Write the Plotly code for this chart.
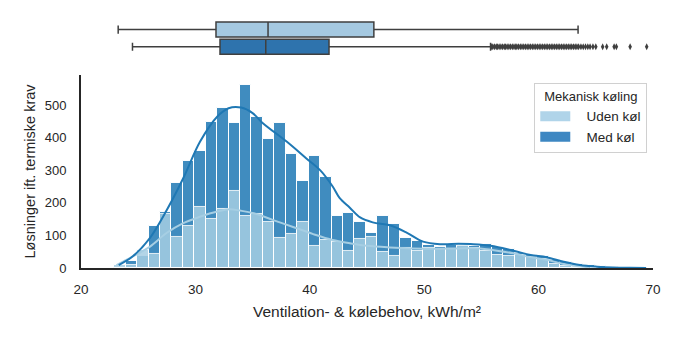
import plotly.graph_objects as go

# ---------------- data ----------------
bin_centers = [23.4, 24.4, 25.4, 26.4, 27.4, 28.4, 29.4, 30.4, 31.4, 32.4,
               33.4, 34.4, 35.4, 36.4, 37.4, 38.4, 39.4, 40.4, 41.4, 42.4,
               43.4, 44.4, 45.4, 46.4, 47.4, 48.4, 49.4, 50.4, 51.4, 52.4,
               53.4, 54.4, 55.4, 56.4, 57.4, 58.4, 59.4, 60.4, 61.4, 62.4,
               63.4, 64.4, 65.4, 66.4, 67.4, 68.4, 69.4]
bin_width = 1.0
uden_counts = [10, 8, 55, 43, 166, 96, 129, 186, 149, 180,
               237, 160, 166, 142, 91, 104, 142, 67, 86, 81,
               52, 88, 94, 50, 37, 62, 53, 62, 58, 58,
               67, 63, 52, 40, 36, 40, 34, 27, 12, 6,
               2, 0, 0, 0, 0, 0, 0]
med_counts = [3, 22, 38, 129, 172, 262, 329, 360, 449, 490,
              444, 561, 464, 395, 444, 350, 268, 344, 280, 160,
              170, 142, 106, 160, 135, 93, 84, 71, 66, 71,
              70, 69, 73, 65, 57, 46, 40, 37, 24, 19,
              12, 8, 5, 3, 1, 1, 1]

kde_med_x = [23.3, 24.5, 26.0, 27.5, 29.0, 30.4, 31.9, 32.9, 34.0, 35.0,
             35.9, 38.0, 39.7, 40.9, 42.0, 42.6, 43.5, 44.4, 45.5, 47.0,
             48.5, 49.9, 51.4, 53.0, 54.3, 55.8, 57.8, 59.3, 60.7, 62.2,
             63.6, 65.1, 66.5, 68.0, 69.4]
kde_med_y = [9, 35, 91, 178, 280, 387, 464, 490, 492, 475,
             444, 387, 336, 300, 250, 215, 185, 155, 140, 131,
             108, 81, 73, 74, 73, 68, 53, 40, 33, 19,
             9, 4, 1.5, 0.5, 0.2]
kde_uden_x = [23.1, 24.5, 26.0, 27.5, 28.9, 30.4, 31.9, 33.0, 33.9, 35.1,
              36.8, 38.6, 40.3, 42.0, 43.5, 45.0, 47.0, 49.0, 51.0, 53.0,
              54.9, 56.0, 57.8, 59.3, 60.7, 62.2, 63.6, 64.5]
kde_uden_y = [9, 35, 65, 108, 137, 157, 173, 180, 176, 168,
              147, 125, 104, 86, 76, 68, 63, 60, 59, 60,
              60, 55, 45, 33, 25, 12, 5, 2]

# boxplot statistics: [lowerfence, q1, median, q3, upperfence]
uden_box = [23.25, 31.8, 36.35, 45.6, 63.45]
med_box = [24.5, 32.15, 36.15, 41.68, 55.8]
med_outliers = [55.9, 56.0, 56.15, 56.3, 56.4, 56.55, 56.7, 56.85, 57.0, 57.1,
                57.25, 57.4, 57.55, 57.7, 57.85, 58.0, 58.1, 58.25, 58.4, 58.55,
                58.7, 58.85, 59.0, 59.15, 59.3, 59.45, 59.6, 59.75, 59.9, 60.05,
                60.2, 60.35, 60.5, 60.65, 60.8, 60.95, 61.1, 61.25, 61.4, 61.55,
                61.7, 61.85, 62.0, 62.15, 62.3, 62.45, 62.6, 62.75, 62.9, 63.05,
                63.2, 63.35, 63.5, 63.7, 63.9, 64.1, 64.3, 64.5, 64.75, 65.0,
                65.6, 65.95, 66.6, 66.8, 68.0, 69.45]

series_names = ["Uden køl", "Med køl"]
legend_title = "Mekanisk køling"
x_title = "Ventilation- & kølebehov, kWh/m²"
y_title = "Løsninger ift. termiske krav"
x_ticks = [20, 30, 40, 50, 60, 70]
y_ticks = [0, 100, 200, 300, 400, 500]

# ---------------- style ----------------
LIGHT = "#a6cee3"
DARK = "#1f78b4"
LIGHT_SW = "#b0d4e9"
DARK_SW = "#3d87c2"
LIGHT_BOX = "#a5c9e1"
DARK_BOX = "#2e73ad"
EDGE = "#3f3f3f"
TXT = "#262626"
FONT = "Liberation Sans, Arial, sans-serif"
PAD = "\u00a0\u00a0\u00a0"

fig = go.Figure()

# histogram bars (Med behind, Uden on top)
fig.add_trace(go.Bar(
    x=bin_centers, y=med_counts, width=bin_width, name=series_names[1],
    marker=dict(color=DARK, line=dict(color="white", width=1)),
    opacity=0.85, showlegend=False, xaxis="x", yaxis="y"))
fig.add_trace(go.Bar(
    x=bin_centers, y=uden_counts, width=bin_width, name=series_names[0],
    marker=dict(color=LIGHT, line=dict(color="white", width=1)),
    opacity=0.85, showlegend=False, xaxis="x", yaxis="y"))

# legend swatches (wide rectangles as in the reference)
fig.add_trace(go.Scatter(
    x=[None], y=[None], mode="lines", name=PAD + series_names[0],
    line=dict(color=LIGHT_SW, width=10), legendrank=1, xaxis="x", yaxis="y"))
fig.add_trace(go.Scatter(
    x=[None], y=[None], mode="lines", name=PAD + series_names[1],
    line=dict(color=DARK_SW, width=10), legendrank=2, xaxis="x", yaxis="y"))

# kde lines
fig.add_trace(go.Scatter(
    x=kde_uden_x, y=kde_uden_y, mode="lines", line=dict(color=LIGHT, width=2, shape="spline"),
    showlegend=False, hoverinfo="skip", xaxis="x", yaxis="y"))
fig.add_trace(go.Scatter(
    x=kde_med_x, y=kde_med_y, mode="lines", line=dict(color=DARK, width=2, shape="spline"),
    showlegend=False, hoverinfo="skip", xaxis="x", yaxis="y"))

# box plots
fig.add_trace(go.Box(
    orientation="h", y=[1], lowerfence=[uden_box[0]], q1=[uden_box[1]], median=[uden_box[2]],
    q3=[uden_box[3]], upperfence=[uden_box[4]], boxpoints=False, width=0.87, whiskerwidth=0.55,
    fillcolor=LIGHT_BOX, line=dict(color=EDGE, width=1.5), showlegend=False,
    xaxis="x2", yaxis="y2"))
fig.add_trace(go.Box(
    orientation="h", y=[0], lowerfence=[med_box[0]], q1=[med_box[1]], median=[med_box[2]],
    q3=[med_box[3]], upperfence=[med_box[4]], boxpoints=False, width=0.87, whiskerwidth=0.55,
    fillcolor=DARK_BOX, line=dict(color=EDGE, width=1.5), showlegend=False,
    xaxis="x2", yaxis="y2"))
fig.add_trace(go.Scatter(
    x=med_outliers, y=[0] * len(med_outliers), mode="markers",
    marker=dict(symbol="diamond-tall", size=5, color=EDGE), showlegend=False,
    xaxis="x2", yaxis="y2"))

fig.update_layout(
    width=681, height=341,
    margin=dict(l=81, r=28, t=15, b=73),
    paper_bgcolor="white", plot_bgcolor="white",
    barmode="overlay", bargap=0,
    font=dict(family=FONT, size=13, color=TXT),
    xaxis=dict(domain=[0, 1], range=[20, 70], anchor="y", tickvals=x_ticks,
               showline=True, linecolor=TXT, linewidth=1.8, showgrid=False, zeroline=False,
               ticks="outside", ticklen=8, tickcolor="rgba(0,0,0,0)",
               tickfont=dict(size=13.5, color=TXT),
               title=dict(text=x_title, font=dict(size=15.5, color=TXT), standoff=10)),
    yaxis=dict(domain=[0, 0.763], range=[0, 592], anchor="x", tickvals=y_ticks,
               showline=True, linecolor=TXT, linewidth=1.8, showgrid=False, zeroline=False,
               ticks="outside", ticklen=10, tickcolor="rgba(0,0,0,0)",
               tickfont=dict(size=13, color=TXT),
               title=dict(text=y_title, font=dict(size=14.5, color=TXT), standoff=6)),
    xaxis2=dict(domain=[0, 1], range=[20, 70], anchor="y2", visible=False),
    yaxis2=dict(domain=[0.827, 0.99], range=[-0.7, 1.7], anchor="x2", visible=False),
    legend=dict(x=0.99, xanchor="right", y=0.731, yanchor="top",
                bgcolor="white", bordercolor="#d0d0d0", borderwidth=1,
                font=dict(size=13.5, color=TXT), itemwidth=30, tracegroupgap=4,
                title=dict(text=legend_title, side="top center", font=dict(size=13, color=TXT))),
)

fig.write_html("out.html")
